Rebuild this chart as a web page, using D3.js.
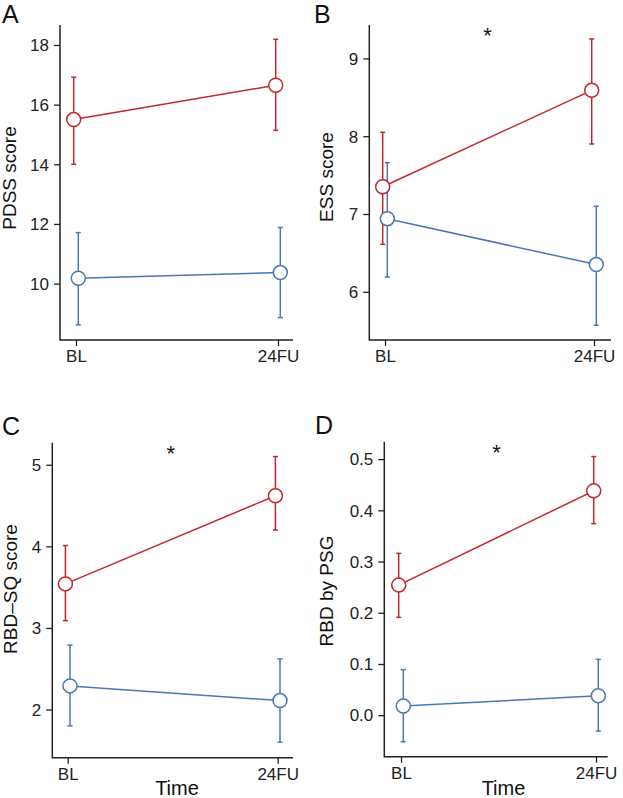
<!DOCTYPE html>
<html>
<head>
<meta charset="utf-8">
<script src="https://cdn.jsdelivr.net/npm/d3@7"></script>
<style>
  html, body { margin: 0; padding: 0; background: #fff; }
  svg { display: block; font-family: "Liberation Sans", Arial, Helvetica, sans-serif; }
</style>
</head>
<body>
<svg id="chart" width="623" height="798"></svg>
<script>
// ---------- data ----------
const timepoints = ["BL", "24FU"];

// Panel A: PDSS score
const pdssRedMean = [15.50, 16.65];
const pdssRedLow  = [14.00, 15.14];
const pdssRedHigh = [16.92, 18.19];
const pdssBlueMean = [10.18, 10.37];
const pdssBlueLow  = [8.62, 8.86];
const pdssBlueHigh = [11.71, 11.88];
const pdssTicks = [10, 12, 14, 16, 18];

// Panel B: ESS score
const essRedMean = [7.35, 8.59];
const essRedLow  = [6.61, 7.90];
const essRedHigh = [8.05, 9.25];
const essBlueMean = [6.94, 6.35];
const essBlueLow  = [6.19, 5.57];
const essBlueHigh = [7.66, 7.10];
const essTicks = [6, 7, 8, 9];

// Panel C: RBD-SQ score
const rbdsqRedMean = [3.54, 4.62];
const rbdsqRedLow  = [3.09, 4.20];
const rbdsqRedHigh = [4.01, 5.10];
const rbdsqBlueMean = [2.29, 2.11];
const rbdsqBlueLow  = [1.80, 1.60];
const rbdsqBlueHigh = [2.79, 2.62];
const rbdsqTicks = [2, 3, 4, 5];

// Panel D: RBD by PSG
const psgRedMean = [0.254, 0.438];
const psgRedLow  = [0.191, 0.374];
const psgRedHigh = [0.316, 0.505];
const psgBlueMean = [0.018, 0.038];
const psgBlueLow  = [-0.052, -0.031];
const psgBlueHigh = [0.089, 0.109];
const psgTicks = [0.0, 0.1, 0.2, 0.3, 0.4, 0.5];

const panelLetters = ["A", "B", "C", "D"];
const yTitles = ["PDSS score", "ESS score", "RBD\u2013SQ score", "RBD by PSG"];
const significant = [false, true, true, true];
const xTitle = "Time";

// ---------- styling / layout ----------
const RED = "#c1272d";
const BLUE = "#4a78b3";
const AXIS = "#222";

const panels = [
  { letter: panelLetters[0], title: yTitles[0], star: significant[0], ticks: pdssTicks, fmt: d3.format("d"),
    domain: [8.11, 18.67], axisX: 60, right: 293, top: 25, bottom: 340, bl: 76, fu: 278,
    letterPos: [2, 23], titleX: 15.5, titleY: 178, xTitle: false,
    red: [pdssRedMean, pdssRedLow, pdssRedHigh], blue: [pdssBlueMean, pdssBlueLow, pdssBlueHigh] },
  { letter: panelLetters[1], title: yTitles[1], star: significant[1], ticks: essTicks, fmt: d3.format("d"),
    domain: [5.38, 9.43], axisX: 369.3, right: 611, top: 25, bottom: 340, bl: 385, fu: 594,
    letterPos: [314, 23], titleX: 333, titleY: 177, xTitle: false,
    red: [essRedMean, essRedLow, essRedHigh], blue: [essBlueMean, essBlueLow, essBlueHigh] },
  { letter: panelLetters[2], title: yTitles[2], star: significant[2], ticks: rbdsqTicks, fmt: d3.format("d"),
    domain: [1.41, 5.27], axisX: 52.3, right: 293, top: 442.7, bottom: 757.7, bl: 67.7, fu: 277.7,
    letterPos: [2, 435], titleX: 17, titleY: 589, xTitle: true, xTitleX: 177,
    red: [rbdsqRedMean, rbdsqRedLow, rbdsqRedHigh], blue: [rbdsqBlueMean, rbdsqBlueLow, rbdsqBlueHigh] },
  { letter: panelLetters[3], title: yTitles[3], star: significant[3], ticks: psgTicks, fmt: d3.format(".1f"),
    domain: [-0.081, 0.534], axisX: 384.3, right: 607.7, top: 441.7, bottom: 756.7, bl: 401, fu: 596,
    letterPos: [315, 434], titleX: 333, titleY: 591, xTitle: true, xTitleX: 503.5,
    red: [psgRedMean, psgRedLow, psgRedHigh], blue: [psgBlueMean, psgBlueLow, psgBlueHigh] }
];

const svg = d3.select("#chart");

panels.forEach(p => {
  const g = svg.append("g");
  const y = d3.scaleLinear().domain(p.domain).range([p.bottom, p.top]);
  const x = d3.scalePoint().domain(timepoints).range([p.bl, p.fu]);

  // y axis
  const yAxis = d3.axisLeft(y).tickValues(p.ticks).tickFormat(p.fmt).tickSize(6).tickPadding(5).tickSizeOuter(0);
  const ya = g.append("g").attr("transform", `translate(${p.axisX},0)`).call(yAxis);
  ya.select(".domain").remove();
  ya.selectAll(".tick line").attr("stroke", AXIS).attr("stroke-width", 1.3);
  ya.selectAll(".tick text").attr("fill", "#222").style("font-size", "17px").attr("dy", "0.34em");

  // x axis
  const xAxis = d3.axisBottom(x).tickSize(6).tickPadding(4).tickSizeOuter(0);
  const xa = g.append("g").attr("transform", `translate(0,${p.bottom})`).call(xAxis);
  xa.select(".domain").remove();
  xa.selectAll(".tick line").attr("stroke", AXIS).attr("stroke-width", 1.3);
  xa.selectAll(".tick text").attr("fill", "#222").style("font-size", "17px");

  // L-shaped frame
  g.append("path")
    .attr("d", `M${p.axisX},${p.top}V${p.bottom}H${p.right}`)
    .attr("fill", "none").attr("stroke", AXIS).attr("stroke-width", 1.5);

  // series
  const series = [
    { vals: p.red, color: RED, dx: -2.3 },
    { vals: p.blue, color: BLUE, dx: 2.3 }
  ];
  series.forEach(s => {
    const pts = timepoints.map((t, i) => ({
      x: x(t) + s.dx, m: s.vals[0][i], lo: s.vals[1][i], hi: s.vals[2][i]
    }));
    // error bars
    pts.forEach(d => {
      g.append("line").attr("x1", d.x).attr("x2", d.x).attr("y1", y(d.lo)).attr("y2", y(d.hi))
        .attr("stroke", s.color).attr("stroke-width", 1.5);
      [d.lo, d.hi].forEach(v => {
        g.append("line").attr("x1", d.x - 2.5).attr("x2", d.x + 2.5).attr("y1", y(v)).attr("y2", y(v))
          .attr("stroke", s.color).attr("stroke-width", 1.5);
      });
    });
    // connecting line
    g.append("path")
      .datum(pts)
      .attr("d", d3.line().x(d => d.x).y(d => y(d.m)))
      .attr("fill", "none").attr("stroke", s.color).attr("stroke-width", 1.5);
  });
  // points drawn on top
  series.forEach(s => {
    timepoints.forEach((t, i) => {
      g.append("circle").attr("cx", x(t) + s.dx).attr("cy", y(s.vals[0][i])).attr("r", 7)
        .attr("fill", "#fff").attr("stroke", s.color).attr("stroke-width", 1.5);
    });
  });

  // panel letter
  g.append("text").attr("x", p.letterPos[0]).attr("y", p.letterPos[1])
    .style("font-size", "25px").attr("fill", "#111").text(p.letter);

  // y title
  g.append("text")
    .attr("transform", `translate(${p.titleX},${p.titleY}) rotate(-90)`)
    .attr("text-anchor", "middle").style("font-size", "19px").attr("fill", "#111")
    .text(p.title);

  // x title
  if (p.xTitle) {
    g.append("text").attr("x", p.xTitleX).attr("y", 795)
      .attr("text-anchor", "middle").style("font-size", "20px").attr("fill", "#111").text(xTitle);
  }

  // significance star
  if (p.star) {
    g.append("text").attr("x", (p.bl + p.fu) / 2 - 2).attr("y", p.top + 18)
      .attr("text-anchor", "middle").style("font-size", "22px").attr("fill", "#111").text("*");
  }
});
</script>
</body>
</html>
